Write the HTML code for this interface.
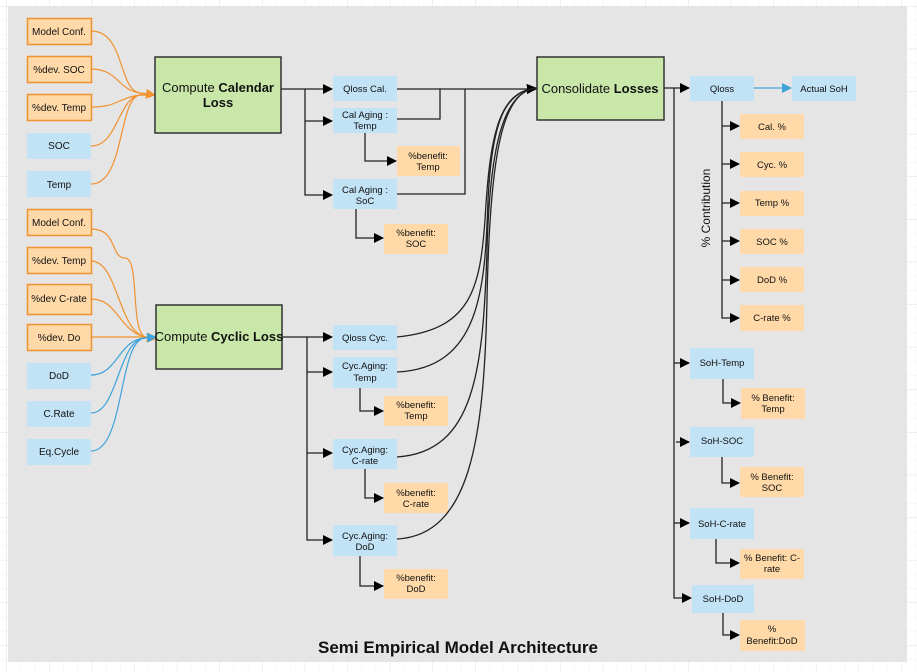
<!DOCTYPE html>
<html><head><meta charset="utf-8"><style>
html,body{margin:0;padding:0;background:#fff;}
svg{display:block;font-family:"Liberation Sans",Arial,sans-serif;}
</style></head><body>
<svg width="917" height="672" viewBox="0 0 917 672" xmlns="http://www.w3.org/2000/svg">
<defs>
<pattern id="g" width="14.2" height="14.2" patternUnits="userSpaceOnUse"><path d="M14.2 0V14.2H0" fill="none" stroke="#f0f0f0" stroke-width="1"/></pattern>
<pattern id="G" width="42.6" height="42.6" patternUnits="userSpaceOnUse" x="7" y="-36"><rect width="42.6" height="42.6" fill="url(#g)"/><path d="M42.6 0V42.6H0" fill="none" stroke="#e2e2e2" stroke-width="1"/></pattern>
<marker id="a" markerWidth="10" markerHeight="10" refX="9" refY="5" orient="auto" markerUnits="userSpaceOnUse"><path d="M0,0L10,5L0,10z" fill="#000"/></marker>
<marker id="ao" markerWidth="10" markerHeight="10" refX="9" refY="5" orient="auto" markerUnits="userSpaceOnUse"><path d="M0,0L10,5L0,10z" fill="#f0922f"/></marker>
<marker id="ab" markerWidth="10" markerHeight="10" refX="9" refY="5" orient="auto" markerUnits="userSpaceOnUse"><path d="M0,0L10,5L0,10z" fill="#3fa3dc"/></marker>
</defs>
<rect width="917" height="672" fill="url(#G)"/>
<rect x="8" y="6" width="899" height="656" fill="#e5e5e5"/>

<g font-size="10" text-anchor="middle" fill="#111">
<g fill="#ffd9a8" stroke="#f0922f" stroke-width="1.5">
<rect x="27.5" y="18.5" width="64" height="26"/>
<rect x="27.5" y="56.5" width="64" height="26"/>
<rect x="27.5" y="94.5" width="64" height="26"/>
<rect x="27.5" y="209.5" width="64" height="26"/>
<rect x="27.5" y="247.5" width="64" height="26"/>
<rect x="27.5" y="284.5" width="64" height="30"/>
<rect x="27.5" y="324.5" width="64" height="26"/>
</g>
<g fill="#c2e2f6">
<rect x="27" y="133" width="64" height="26"/>
<rect x="27" y="171" width="64" height="26"/>
<rect x="27" y="363" width="64" height="26"/>
<rect x="27" y="401" width="64" height="26"/>
<rect x="27" y="439" width="64" height="26"/>
</g>
<text x="59" y="35">Model Conf.</text>
<text x="59" y="73">%dev. SOC</text>
<text x="59" y="111">%dev. Temp</text>
<text x="59" y="149">SOC</text>
<text x="59" y="188">Temp</text>
<text x="59" y="226">Model Conf.</text>
<text x="59" y="264">%dev. Temp</text>
<text x="59" y="302">%dev C-rate</text>
<text x="59" y="341">%dev. Do</text>
<text x="59" y="379">DoD</text>
<text x="59" y="417">C.Rate</text>
<text x="59" y="455">Eq.Cycle</text>
</g>

<g fill="none" stroke="#f0922f" stroke-width="1.2">
<path d="M91,31 C125,31 118,90 140,93 L155,95" marker-end="url(#ao)"/>
<path d="M91,69 C118,69 118,90 140,93 L155,95"/>
<path d="M91,107 C118,107 118,98 140,95 L155,95"/>
<path d="M91,146 C118,146 118,98 140,95 L155,95"/>
<path d="M91,184 C125,184 118,98 140,95 L155,95"/>
<path d="M91,229 C118,229 110,258 125,258 C140,258 130,330 145,337 L156,339" marker-end="url(#ao)"/>
<path d="M91,261 C118,261 118,330 145,337 L156,339"/>
<path d="M91,299 C118,299 118,330 145,337 L156,339"/>
<path d="M91,337 L156,337"/>
</g>
<g fill="none" stroke="#3fa3dc" stroke-width="1.2">
<path d="M91,375 C118,375 118,340 145,338 L156,337" marker-end="url(#ab)"/>
<path d="M91,413 C118,413 118,340 145,338 L156,337"/>
<path d="M91,451 C125,451 118,340 145,338 L156,337"/>
</g>

<g fill="#c8e7a9" stroke="#333" stroke-width="1.5">
<rect x="155" y="57" width="126" height="76"/>
<rect x="156" y="305" width="126" height="64"/>
<rect x="537" y="57" width="127" height="63"/>
</g>
<g font-size="13" text-anchor="middle" fill="#111">
<text x="218" y="92">Compute <tspan font-weight="bold">Calendar</tspan></text>
<text x="218" y="107" font-weight="bold">Loss</text>
<text x="219" y="341">Compute <tspan font-weight="bold">Cyclic Loss</tspan></text>
<text x="600" y="93">Consolidate <tspan font-weight="bold">Losses</tspan></text>
</g>

<g fill="#c2e2f6">
<rect x="333" y="76" width="64" height="25"/>
<rect x="333" y="108" width="64" height="25"/>
<rect x="333" y="179" width="64" height="30"/>
<rect x="333" y="325" width="64" height="25"/>
<rect x="333" y="357" width="64" height="31"/>
<rect x="333" y="439" width="64" height="30"/>
<rect x="333" y="525" width="64" height="31"/>
<rect x="690" y="76" width="64" height="25"/>
<rect x="792" y="76" width="64" height="25"/>
<rect x="690" y="348" width="64" height="31"/>
<rect x="690" y="427" width="64" height="30"/>
<rect x="690" y="508" width="64" height="31"/>
<rect x="692" y="585" width="62" height="28"/>
</g>
<g fill="#ffd9a8">
<rect x="397" y="146" width="63" height="30"/>
<rect x="384" y="224" width="64" height="30"/>
<rect x="384" y="396" width="64" height="30"/>
<rect x="384" y="483" width="64" height="30"/>
<rect x="384" y="569" width="64" height="30"/>
<rect x="740" y="114" width="64" height="25"/>
<rect x="740" y="152" width="64" height="25"/>
<rect x="740" y="191" width="64" height="25"/>
<rect x="740" y="229" width="64" height="25"/>
<rect x="740" y="267" width="64" height="25"/>
<rect x="740" y="305" width="64" height="26"/>
<rect x="741" y="388" width="64" height="31"/>
<rect x="740" y="467" width="64" height="30"/>
<rect x="740" y="549" width="64" height="30"/>
<rect x="740" y="620" width="65" height="31"/>
</g>
<g font-size="9.5" text-anchor="middle" fill="#111">
<text x="365" y="92">Qloss Cal.</text>
<text x="365" y="118">Cal Aging :</text><text x="365" y="129">Temp</text>
<text x="428" y="159">%benefit:</text><text x="428" y="170">Temp</text>
<text x="365" y="193">Cal Aging :</text><text x="365" y="204">SoC</text>
<text x="416" y="236">%benefit:</text><text x="416" y="247">SOC</text>
<text x="365" y="341">Qloss Cyc.</text>
<text x="365" y="369">Cyc.Aging:</text><text x="365" y="381">Temp</text>
<text x="416" y="408">%benefit:</text><text x="416" y="419">Temp</text>
<text x="365" y="453">Cyc.Aging:</text><text x="365" y="464">C-rate</text>
<text x="416" y="496">%benefit:</text><text x="416" y="507">C-rate</text>
<text x="365" y="539">Cyc.Aging:</text><text x="365" y="550">DoD</text>
<text x="416" y="581">%benefit:</text><text x="416" y="592">DoD</text>
<text x="722" y="92">Qloss</text>
<text x="824" y="92">Actual SoH</text>
<text x="772" y="130">Cal. %</text>
<text x="772" y="168">Cyc. %</text>
<text x="772" y="206">Temp %</text>
<text x="772" y="245">SOC %</text>
<text x="772" y="283">DoD %</text>
<text x="772" y="321">C-rate %</text>
<text x="722" y="366">SoH-Temp</text>
<text x="773" y="401">% Benefit:</text><text x="773" y="412">Temp</text>
<text x="722" y="444">SoH-SOC</text>
<text x="772" y="480">% Benefit:</text><text x="772" y="491">SOC</text>
<text x="722" y="527">SoH-C-rate</text>
<text x="772" y="561">% Benefit: C-</text><text x="772" y="572">rate</text>
<text x="723" y="602">SoH-DoD</text>
<text x="772" y="632">%</text><text x="772" y="644">Benefit:DoD</text>
</g>
<text transform="translate(710,208) rotate(-90)" font-size="12" text-anchor="middle" fill="#111">% Contribution</text>

<g fill="none" stroke="#222" stroke-width="1.3">
<path d="M281,89 H332" marker-end="url(#a)"/>
<path d="M305,89 V195 H332" marker-end="url(#a)"/>
<path d="M305,121 H332" marker-end="url(#a)"/>
<path d="M397,89 H536" marker-end="url(#a)"/>
<path d="M397,119 H440 V89"/>
<path d="M397,194 H465 V89"/>
<path d="M365,133 V161 H396" marker-end="url(#a)"/>
<path d="M356,209 V238 H383" marker-end="url(#a)"/>
<path d="M282,337 H332" marker-end="url(#a)"/>
<path d="M307,337 V540 H332" marker-end="url(#a)"/>
<path d="M307,372 H332" marker-end="url(#a)"/>
<path d="M307,453 H332" marker-end="url(#a)"/>
<path d="M360,388 V411 H383" marker-end="url(#a)"/>
<path d="M365,469 V498 H383" marker-end="url(#a)"/>
<path d="M360,556 V586 H383" marker-end="url(#a)"/>
<path d="M397,337 C470,330 480,290 485,220 C490,130 500,92 536,88" marker-end="url(#a)"/>
<path d="M397,372 C480,368 485,290 488,200 C492,120 505,92 536,88"/>
<path d="M397,457 C475,452 483,370 487,250 C490,140 505,92 536,88"/>
<path d="M397,539 C470,535 484,440 487,300 C490,140 505,92 536,88"/>
<path d="M664,88 H689" marker-end="url(#a)"/>
<path d="M674,88 V598 H691" marker-end="url(#a)"/>
<path d="M674,363 H689" marker-end="url(#a)"/>
<path d="M676,442 H689" marker-end="url(#a)"/>
<path d="M674,523 H689" marker-end="url(#a)"/>
<path d="M722,101 V318 H739" marker-end="url(#a)"/>
<path d="M722,126 H739" marker-end="url(#a)"/>
<path d="M722,164 H739" marker-end="url(#a)"/>
<path d="M722,203 H739" marker-end="url(#a)"/>
<path d="M722,241 H739" marker-end="url(#a)"/>
<path d="M722,280 H739" marker-end="url(#a)"/>
<path d="M723,379 V403 H740" marker-end="url(#a)"/>
<path d="M722,457 V483 H739" marker-end="url(#a)"/>
<path d="M716,539 V563 H739" marker-end="url(#a)"/>
<path d="M723,613 V635 H739" marker-end="url(#a)"/>
</g>
<path d="M754,88 H791" stroke="#3fa3dc" stroke-width="1.3" fill="none" marker-end="url(#ab)"/>

<text x="458" y="653" font-size="17" font-weight="bold" text-anchor="middle" fill="#111">Semi Empirical Model Architecture</text>
</svg>
</body></html>
